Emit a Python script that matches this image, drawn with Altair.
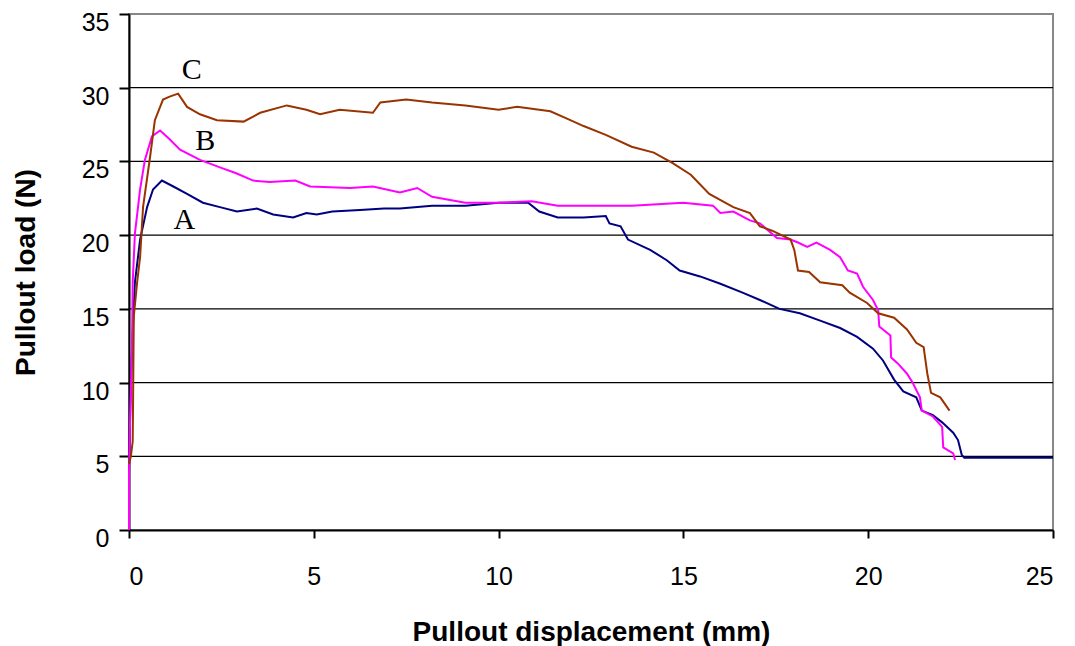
import altair as alt
import pandas as pd

# ---- data ----
A_x = [0, 0, 0.03, 0.08, 0.16, 0.3, 0.49, 0.65, 0.89, 1.2, 1.57, 2.0, 2.46, 2.92, 3.46, 3.9, 4.44, 4.8, 5.08,
       5.5, 6.25, 6.9, 7.33, 8.2, 9.1, 10.0, 10.8, 11.1, 11.6, 12.3, 12.9, 13.0, 13.3, 13.5, 14.1, 14.55, 14.9,
       15.45, 16.0, 16.6, 17.07, 17.6, 18.15, 18.7, 19.24, 19.7, 20.13, 20.4, 20.7, 20.95, 21.3, 21.45, 21.75,
       22.0, 22.3, 22.43, 22.53, 22.6, 25.0]
A_y = [0, 4, 7.7, 12.2, 16.8, 19.7, 21.9, 23.1, 23.7, 23.3, 22.8, 22.2, 21.9, 21.6, 21.8, 21.4, 21.2, 21.5, 21.4,
       21.6, 21.7, 21.8, 21.8, 22.0, 22.0, 22.2, 22.2, 21.6, 21.2, 21.2, 21.3, 20.8, 20.6, 19.7, 19.0, 18.3, 17.6,
       17.2, 16.7, 16.1, 15.6, 15.0, 14.7, 14.2, 13.7, 13.1, 12.3, 11.5, 10.2, 9.4, 9.0, 8.1, 7.8,
       7.3, 6.6, 6.1, 5.1, 4.9, 4.9]

B_x = [0, 0, 0.03, 0.08, 0.1, 0.16, 0.3, 0.43, 0.62, 0.84, 1.1, 1.38, 1.92, 2.46, 2.9, 3.36, 3.8, 4.5, 4.9,
       5.98, 6.6, 7.33, 7.8, 8.2, 9.1, 10.0, 10.9, 11.6, 12.3, 13.6, 15.0, 15.8, 16.0, 16.35, 16.8, 17.07, 17.53,
       17.9, 18.1, 18.35, 18.6, 18.97, 19.24, 19.45, 19.7, 19.86, 20.13, 20.27, 20.3, 20.6, 20.62, 20.8, 21.05,
       21.2, 21.4, 21.45, 21.75, 22.0, 22.03, 22.3, 22.35]
B_y = [0, 4, 7.5, 12.2, 16.8, 20.1, 23.1, 25.1, 26.7, 27.1, 26.5, 25.8, 25.1, 24.6, 24.2, 23.7, 23.6, 23.7, 23.3,
       23.2, 23.3, 22.9, 23.2, 22.6, 22.2, 22.2, 22.3, 22.0, 22.0, 22.0, 22.2, 22.0, 21.5, 21.6, 21.0, 20.8, 19.8,
       19.7, 19.5, 19.2, 19.5, 19.0, 18.5, 17.6, 17.4, 16.5, 15.6, 14.9, 13.8, 13.2, 11.7, 11.3, 10.6,
       10.0, 9.0, 8.1, 7.7, 7.0, 5.6, 5.2, 4.75]

C_x = [0.0, 0.05, 0.1, 0.13, 0.22, 0.3, 0.38, 0.57, 0.7, 0.92, 1.1, 1.33, 1.57, 1.92, 2.38, 3.1, 3.55, 4.27,
       4.8, 5.17, 5.7, 6.6, 6.8, 7.5, 8.2, 9.1, 10.0, 10.5, 11.4, 11.85, 12.3, 12.9, 13.6, 14.2, 14.7, 15.2,
       15.7, 16.35, 16.8, 17.07, 17.4, 17.9, 18.0, 18.1, 18.4, 18.7, 19.3, 19.5, 19.97, 20.27, 20.7, 21.05,
       21.3, 21.5, 21.6, 21.7, 21.95, 22.2]
C_y = [4.5, 5.0, 6.0, 14.5, 16.8, 18.5, 21.9, 25.3, 27.8, 29.2, 29.4, 29.6, 28.7, 28.2, 27.8, 27.7, 28.3, 28.8,
       28.5, 28.2, 28.5, 28.3, 29.0, 29.2, 29.0, 28.8, 28.5, 28.7, 28.4, 27.9, 27.4, 26.8, 26.0, 25.6, 24.9, 24.1,
       22.8, 21.9, 21.5, 20.6, 20.3, 19.7, 19.0, 17.6, 17.5, 16.8, 16.6, 16.1, 15.4, 14.7, 14.4, 13.6,
       12.7, 12.4, 10.6, 9.3, 9.0, 8.1]

series_names = ["A", "B", "C"]
series_colors = ["#000080", "#FF00FF", "#993300"]

label_text = ["C", "B", "A"]
label_x = [1.70, 2.06, 1.50]
label_y = [31.2, 26.4, 21.0]

grid_values = [5, 10, 15, 20, 25, 30]
x_ticks = [0, 5, 10, 15, 20, 25]
y_ticks = [0, 5, 10, 15, 20, 25, 30, 35]

rows = []
for name, xs, ys in [("A", A_x, A_y), ("B", B_x, B_y), ("C", C_x, C_y)]:
    for i, (xv, yv) in enumerate(zip(xs, ys)):
        rows.append({"series": name, "i": i, "x": xv, "y": yv})
df = pd.DataFrame(rows)

xscale = alt.Scale(domain=[0, 25], nice=False)
yscale = alt.Scale(domain=[0, 35], nice=False)

x_axis = alt.Axis(values=x_ticks, title="Pullout displacement (mm)", grid=False,
                  labelFont="Liberation Sans", labelFontSize=25, labelColor="black",
                  labelPadding=26, tickSize=8, tickWidth=2, tickColor="black",
                  domainColor="black", domainWidth=2,
                  titleFont="Liberation Sans", titleFontSize=28, titleFontWeight="bold",
                  titleColor="black", titleY=110, titleBaseline="alphabetic")
y_axis = alt.Axis(values=y_ticks, title="Pullout load (N)", grid=False,
                  labelFont="Liberation Sans", labelFontSize=25, labelColor="black",
                  labelPadding=10, labelOffset=8.5, tickSize=10, tickWidth=2, tickColor="black",
                  domainColor="black", domainWidth=2,
                  titleFont="Liberation Sans", titleFontSize=28, titleFontWeight="bold",
                  titleColor="black", titleX=-95, titleY=258, titleBaseline="alphabetic")

grid = alt.Chart(pd.DataFrame({"y": grid_values})).mark_rule(color="black", strokeWidth=1.3).encode(
    y=alt.Y("y:Q", scale=yscale, axis=y_axis)
)

lines = alt.Chart(df).mark_line(strokeWidth=2).encode(
    x=alt.X("x:Q", scale=xscale, axis=x_axis),
    y=alt.Y("y:Q", scale=yscale, axis=y_axis),
    color=alt.Color("series:N", scale=alt.Scale(domain=series_names, range=series_colors), legend=None),
    order="i:Q",
    detail="series:N",
)

labels = alt.Chart(pd.DataFrame({"t": label_text, "x": label_x, "y": label_y})).mark_text(
    font="Liberation Serif", fontSize=30, color="black", align="center", baseline="middle"
).encode(
    x=alt.X("x:Q", scale=xscale),
    y=alt.Y("y:Q", scale=yscale),
    text="t:N",
)

chart = alt.layer(grid, lines, labels).properties(
    width=924, height=516,
    padding={"left": 121, "top": 6, "right": 14, "bottom": 116},
    autosize="none",
).configure_view(stroke="#888888", strokeWidth=2)

chart.save("out.html", embed_options={"renderer": "svg", "actions": False})
